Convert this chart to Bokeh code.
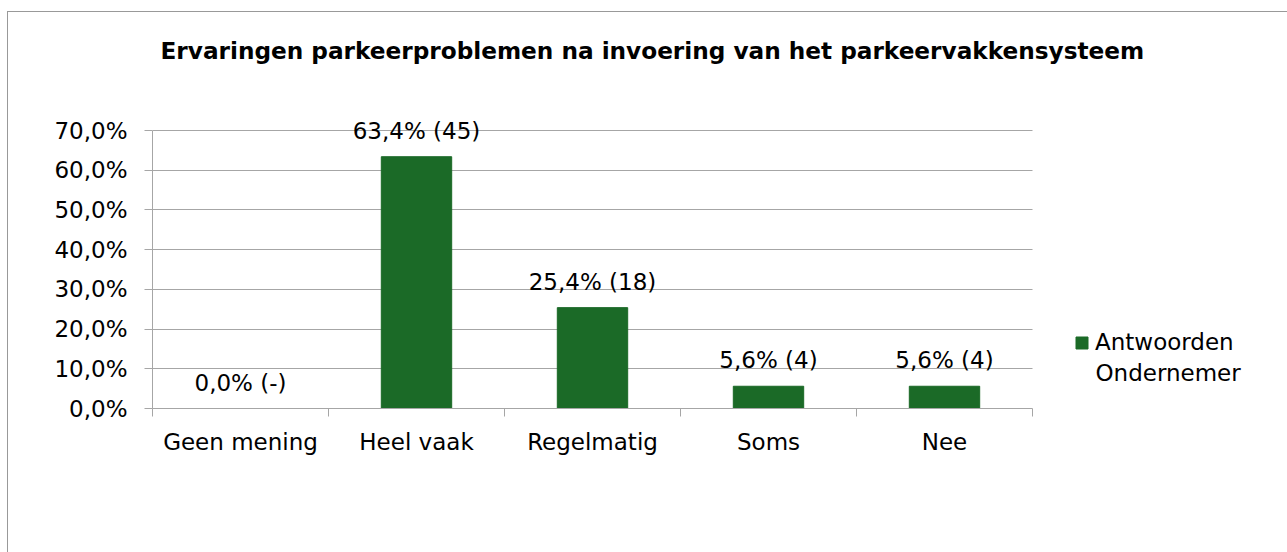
import numpy as np
from bokeh.plotting import figure
from bokeh.core.properties import value
from bokeh.models import (ColumnDataSource, FixedTicker, CustomJSTickFormatter, LabelSet,
                          Label, Legend, LegendItem, Range1d)
from bokeh.embed import file_html
from bokeh.resources import INLINE

title_text = "Ervaringen parkeerproblemen na invoering van het parkeervakkensysteem"
categories = ["Geen mening", "Heel vaak", "Regelmatig", "Soms", "Nee"]
percentages = [0.0, 63.4, 25.4, 5.6, 5.6]
counts = [None, 45, 18, 4, 4]
series_name = ["Antwoorden", "Ondernemer"]
y_ticks = [0.0, 0.1, 0.2, 0.3, 0.4, 0.5, 0.6, 0.7]

FONT = "DejaVu Sans"
GREEN = "#1b6a27"
GRAY = "#a6a6a6"

n = len(categories)
xc = list(np.arange(n) + 0.5)
vals = [v / 100.0 for v in percentages]
texts = [f"{v:.1f}".replace(".", ",") + "% (" + ("-" if c is None else str(c)) + ")"
         for v, c in zip(percentages, counts)]

src = ColumnDataSource(dict(x=xc, top=vals, text=texts))

W, H = 1280, 541
B_LEFT, B_BOTTOM = 144, 145
PX_PER_CAT = 176.0          # horizontal scale
PX_PER_70 = 278.0           # pixels for 0..70%
frame_w = W - B_LEFT
frame_h = H - B_BOTTOM
x_end = frame_w / PX_PER_CAT
y_end = 0.7 * frame_h / PX_PER_70

p = figure(width=W, height=H, output_backend="svg", toolbar_location=None,
           x_range=Range1d(0, x_end), y_range=Range1d(0, y_end),
           min_border_left=B_LEFT, min_border_right=0, min_border_top=0,
           min_border_bottom=B_BOTTOM)
p.margin = (11, 0, 0, 7)
p.styles = {"border-top": "1px solid #999999", "border-left": "1px solid #999999"}
p.outline_line_color = None
p.background_fill_color = "white"
p.border_fill_color = "white"

bars = p.vbar(x="x", top="top", width=0.4, bottom=0, source=src,
              fill_color=GREEN, line_color=GREEN)

# y axis
p.yaxis.ticker = FixedTicker(ticks=y_ticks)
p.yaxis.bounds = (0, 0.7)
p.yaxis.formatter = CustomJSTickFormatter(code="return (tick*100).toFixed(1).replace('.', ',') + '%';")
p.yaxis.axis_line_color = GRAY
p.yaxis.major_tick_line_color = GRAY
p.yaxis.major_tick_out = 8
p.yaxis.major_tick_in = 0
p.yaxis.minor_tick_line_color = None
p.yaxis.major_label_standoff = 17
p.yaxis.major_label_text_font = FONT
p.yaxis.major_label_text_font_size = "23px"
p.yaxis.major_label_text_color = "black"

# x axis
p.xaxis.ticker = FixedTicker(ticks=xc, minor_ticks=list(range(n + 1)))
p.xaxis.bounds = (0, n)
p.xaxis.major_label_overrides = {float(x): c for x, c in zip(xc, categories)}
p.xaxis.axis_line_color = GRAY
p.xaxis.major_tick_line_color = None
p.xaxis.minor_tick_line_color = GRAY
p.xaxis.minor_tick_out = 8
p.xaxis.minor_tick_in = 0
p.xaxis.major_label_standoff = 12
p.xaxis.major_label_text_font = FONT
p.xaxis.major_label_text_font_size = "23px"
p.xaxis.major_label_text_color = "black"

p.xgrid.grid_line_color = None
p.ygrid.ticker = FixedTicker(ticks=y_ticks)
p.ygrid.cross_bounds = (0, n)
p.ygrid.grid_line_color = GRAY
p.ygrid.grid_line_width = 1

labels = LabelSet(x="x", y="top", text="text", source=src, text_align="center",
                  text_baseline="alphabetic", y_offset=18, text_font=value(FONT),
                  text_font_size=value("23px"), text_color="black")
p.add_layout(labels)

title = Label(x=8, y=358, x_units="screen", y_units="screen", text=title_text,
              text_align="left", text_baseline="middle", text_font=FONT,
              text_font_style="bold", text_font_size="23.2px", text_color="black")
p.add_layout(title)

legend = Legend(items=[LegendItem(label=series_name[0], renderers=[bars])],
                location=(922, 53), padding=0, margin=0, border_line_color=None,
                background_fill_alpha=0, glyph_width=15, glyph_height=15,
                label_standoff=6, label_text_font=FONT, label_text_font_size="23px",
                label_text_color="black")
p.add_layout(legend)

legend_line2 = Label(x=943, y=36, x_units="screen", y_units="screen", text=series_name[1],
                     text_baseline="middle", text_align="left", text_font=FONT,
                     text_font_size="23px", text_color="black")
p.add_layout(legend_line2)

open("out.html", "w").write(file_html(p, INLINE))
